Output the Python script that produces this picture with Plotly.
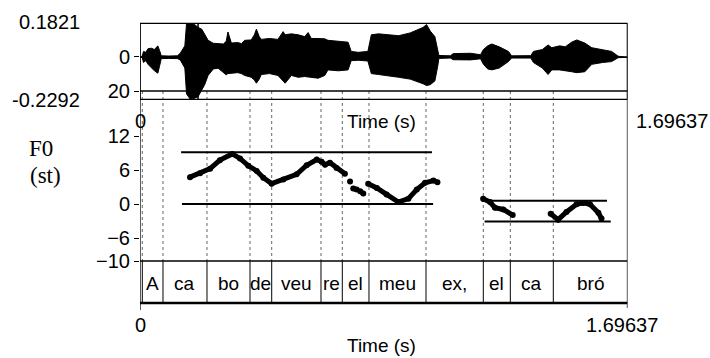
import plotly.graph_objects as go

W, H = 710, 358
T_END = 1.69637

# ---------------- data ----------------
# waveform envelope (seconds, amplitude)
wave_t = [0.000, 0.008, 0.012, 0.020, 0.028, 0.040, 0.050, 0.062, 0.068, 0.074,
          0.100, 0.130, 0.140, 0.156, 0.162, 0.175, 0.190, 0.202, 0.215, 0.225,
          0.237, 0.255, 0.272, 0.290, 0.300, 0.306, 0.318, 0.340, 0.353, 0.364,
          0.387, 0.398, 0.405, 0.415, 0.422, 0.450, 0.480, 0.498, 0.505, 0.527,
          0.550, 0.573, 0.585, 0.596, 0.620, 0.643, 0.654, 0.690, 0.724, 0.735,
          0.760, 0.793, 0.805, 0.830, 0.863, 0.900, 0.940, 0.968, 0.985, 0.997,
          1.010, 1.026, 1.036, 1.040, 1.080, 1.090, 1.150, 1.185, 1.195, 1.210,
          1.224, 1.250, 1.282, 1.293, 1.360, 1.369, 1.400, 1.420, 1.433, 1.460,
          1.480, 1.502, 1.520, 1.548, 1.572, 1.610, 1.641, 1.664, 1.696]
wave_upper = [0.002, 0.004, 0.030, 0.025, 0.045, 0.047, 0.040, 0.060, 0.035, 0.006,
              0.005, 0.006, 0.020, 0.060, 0.182, 0.182, 0.175, 0.160, 0.150, 0.120,
              0.090, 0.074, 0.072, 0.070, 0.085, 0.135, 0.075, 0.078, 0.072, 0.090,
              0.092, 0.120, 0.150, 0.110, 0.095, 0.100, 0.095, 0.137, 0.120, 0.125,
              0.120, 0.110, 0.132, 0.100, 0.100, 0.098, 0.090, 0.085, 0.080, 0.030,
              0.025, 0.030, 0.120, 0.125, 0.120, 0.115, 0.130, 0.150, 0.160, 0.175,
              0.140, 0.110, 0.040, 0.008, 0.006, 0.018, 0.020, 0.012, 0.040, 0.060,
              0.070, 0.055, 0.030, 0.006, 0.007, 0.030, 0.040, 0.065, 0.050, 0.060,
              0.055, 0.080, 0.092, 0.075, 0.050, 0.040, 0.030, 0.004, 0.002]
wave_lower = [-0.002, -0.004, -0.030, -0.020, -0.040, -0.060, -0.075, -0.088, -0.050, -0.009,
              -0.008, -0.009, -0.016, -0.060, -0.200, -0.229, -0.224, -0.215, -0.180, -0.150,
              -0.100, -0.065, -0.061, -0.085, -0.097, -0.090, -0.088, -0.085, -0.090, -0.100,
              -0.110, -0.125, -0.142, -0.120, -0.095, -0.090, -0.100, -0.130, -0.142, -0.100,
              -0.110, -0.106, -0.106, -0.110, -0.115, -0.100, -0.070, -0.075, -0.070, -0.020,
              -0.018, -0.022, -0.090, -0.095, -0.100, -0.110, -0.120, -0.135, -0.145, -0.155,
              -0.150, -0.130, -0.050, -0.008, -0.006, -0.015, -0.016, -0.010, -0.040, -0.065,
              -0.070, -0.060, -0.025, -0.006, -0.006, -0.030, -0.060, -0.095, -0.070, -0.070,
              -0.075, -0.080, -0.085, -0.080, -0.040, -0.030, -0.025, -0.004, -0.002]

# F0 contour in semitones (None = unvoiced gap)
f0_t = [0.174, 0.209, 0.244, 0.278, 0.321, 0.348, 0.377, 0.406, 0.429, 0.458,
        0.499, 0.545, 0.580, 0.615, 0.632, 0.644, 0.661, 0.684, 0.713, None,
        0.731, None, 0.742, 0.754, None, 0.766, 0.777, None,
        0.794, 0.824, 0.858, 0.899, 0.934, 0.963, 0.992, 1.021, 1.035, None,
        1.194, 1.218, 1.235, 1.264, 1.297, None,
        1.429, 1.455, 1.484, 1.519, 1.542, 1.566, 1.595, 1.606]
f0_st = [4.8, 5.5, 6.3, 7.8, 8.9, 8.1, 6.8, 5.9, 4.7, 3.65,
         4.4, 5.3, 6.9, 7.9, 7.5, 7.0, 7.35, 6.4, 5.4, None,
         4.05, None, 2.8, 2.6, None, 2.3, 1.9, None,
         3.65, 2.9, 1.75, 0.4, 1.0, 2.6, 3.8, 4.2, 3.9, None,
         1.0, 0.4, -0.6, -0.9, -1.9, None,
         -1.65, -2.7, -1.35, 0.0, 0.25, 0.0, -1.5, -2.5]

# stylization (range) lines
range_t0 = [0.143, 0.146, 1.189, 1.199]
range_t1 = [1.016, 1.020, 1.625, 1.638]
range_st = [9.2, 0.05, 0.65, -3.05]

# text grid
boundaries = [0.008, 0.080, 0.2331, 0.3828, 0.4583, 0.6298, 0.7040,
              0.7968, 0.9952, 1.1946, 1.2886, 1.4382]
syllables = ["A", "ca", "bo", "de", "veu", "re", "el", "meu", "ex,", "el", "ca", "bró"]
cursor_t = 0.202

wave_range = [-0.2292, 0.1821]
f0_range = [-10, 20]
f0_ticks = [-10, -6, 0, 6, 12, 20]

# ---------------- layout helpers ----------------
X0, X1 = 140, 627.5
WAVE_TOP, WAVE_BOT = 23.3, 99.3
F0_TOP, F0_BOT = 91, 261
TG_BOT = 303


def py(p):
    return 1 - p / H


def px(p):
    return p / W


SANS = "Liberation Sans, Arial, sans-serif"
SERIF = "Liberation Serif, Times New Roman, serif"
FS = 19
FN = 20

fig = go.Figure()

fig.add_trace(go.Scatter(
    x=wave_t + wave_t[::-1], y=wave_upper + wave_lower[::-1],
    fill="toself", fillcolor="black", mode="lines",
    line=dict(color="black", width=1), yaxis="y", hoverinfo="skip",
    showlegend=False))

for a, b, v in zip(range_t0, range_t1, range_st):
    fig.add_trace(go.Scatter(x=[a, b], y=[v, v], mode="lines",
                             line=dict(color="black", width=2), yaxis="y2",
                             hoverinfo="skip", showlegend=False))

fig.add_trace(go.Scatter(x=f0_t, y=f0_st, mode="lines+markers",
                         line=dict(color="black", width=5),
                         marker=dict(color="black", size=6),
                         connectgaps=False, yaxis="y2", showlegend=False))

shapes = []
for b in boundaries:
    shapes.append(dict(type="line", xref="x", yref="paper", x0=b, x1=b,
                       y0=py(F0_TOP), y1=py(F0_BOT), layer="below",
                       line=dict(color="#666", width=1, dash="dot")))
    shapes.append(dict(type="line", xref="x", yref="paper", x0=b, x1=b,
                       y0=py(F0_BOT), y1=py(TG_BOT),
                       line=dict(color="black", width=1)))
shapes.append(dict(type="rect", xref="x", yref="paper", x0=0, x1=T_END,
                   y0=py(WAVE_BOT), y1=py(WAVE_TOP), line=dict(color="black", width=1.3)))
shapes.append(dict(type="line", xref="x", yref="y", x0=0, x1=T_END, y0=0, y1=0,
                   line=dict(color="black", width=1)))
shapes.append(dict(type="line", xref="x", yref="paper", x0=cursor_t, x1=cursor_t,
                   y0=py(WAVE_BOT), y1=py(WAVE_TOP), line=dict(color="black", width=1.5)))
shapes.append(dict(type="line", xref="x", yref="paper", x0=0, x1=T_END,
                   y0=py(F0_TOP), y1=py(F0_TOP), line=dict(color="black", width=1.3)))
shapes.append(dict(type="line", xref="x", yref="paper", x0=0, x1=T_END,
                   y0=py(F0_BOT), y1=py(F0_BOT), line=dict(color="black", width=1.3)))
shapes.append(dict(type="line", xref="x", yref="paper", x0=0, x1=T_END,
                   y0=py(TG_BOT), y1=py(TG_BOT), line=dict(color="black", width=2.5)))
shapes.append(dict(type="line", xref="x", yref="paper", x0=0, x1=0,
                   y0=py(WAVE_TOP), y1=py(310), line=dict(color="black", width=1.3)))
shapes.append(dict(type="line", xref="x", yref="paper", x0=T_END, x1=T_END,
                   y0=py(WAVE_TOP), y1=py(308), line=dict(color="black", width=1.3)))

ann = []
edges = [0.0] + boundaries + [T_END]
for i, s in enumerate(syllables):
    mid = (edges[i + 1] + edges[i + 2]) / 2
    ann.append(dict(x=mid, y=py(283), xref="x", yref="paper", text=s,
                    xanchor="center", yanchor="middle",
                    showarrow=False, font=dict(family=SANS, size=FS, color="black")))


def lab(text, x, y, xanchor="center", family=SANS, size=FN):
    ann.append(dict(x=px(x), y=py(y), xref="paper", yref="paper", text=text,
                    xanchor=xanchor, yanchor="middle", showarrow=False,
                    font=dict(family=family, size=size, color="black")))


lab("0.1821", 82, 22, "right")
lab("-0.2292", 82, 100, "right")
lab("0", 140, 121)
lab("Time (s)", 382, 121, size=FS)
lab("1.69637", 634, 121, "left")
lab("0", 140, 325)
lab("1.69637", 622, 325)
lab("Time (s)", 382, 345, size=FS)
lab("F0", 41, 149, family=SERIF, size=23)
lab("(st)", 45, 175, family=SERIF, size=23)

fig.update_layout(
    width=W, height=H, autosize=False,
    margin=dict(l=0, r=0, t=0, b=0),
    paper_bgcolor="white", plot_bgcolor="rgba(0,0,0,0)",
    showlegend=False,
    xaxis=dict(domain=[px(X0), px(X1)], range=[0, T_END], visible=False),
    yaxis=dict(domain=[py(WAVE_BOT), py(WAVE_TOP)], range=wave_range,
               tickvals=[0], ticktext=["0"], ticks="outside", ticklen=5,
               tickcolor="black", showgrid=False, zeroline=False, showline=False,
               tickfont=dict(family=SANS, size=FN, color="black"), automargin=False),
    yaxis2=dict(domain=[py(F0_BOT), py(F0_TOP)], range=f0_range, anchor="x",
                tickvals=f0_ticks, ticks="outside", ticklen=5, tickcolor="black",
                showgrid=False, zeroline=False, showline=False,
                tickfont=dict(family=SANS, size=FN, color="black"), automargin=False),
    shapes=shapes, annotations=ann,
)

fig.write_html("out.html", config={"displayModeBar": False},
               post_script="document.body.style.margin='0';document.body.style.overflow='hidden';")
